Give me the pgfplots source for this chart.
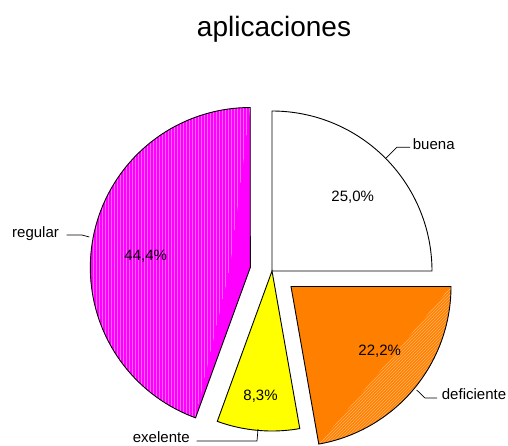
\documentclass[border=0pt]{standalone}
\usepackage{pgfplots}
\pgfplotsset{compat=1.18}
\usetikzlibrary{patterns}
\usepackage{fontspec}
\setmainfont{Liberation Sans}
\definecolor{cmag}{HTML}{FF00FF}
\definecolor{cmagl}{HTML}{FF66FF}
\definecolor{corg}{HTML}{FF8000}
\definecolor{corgl}{HTML}{FFB366}
\definecolor{cyel}{HTML}{FFFF00}
% data: counts (out of 36) -> buena 9, deficiente 8, exelente 3, regular 16
\def\nbuena{9}\def\ndef{8}\def\nexe{3}\def\nreg{16}\def\ntot{36}
\def\R{160}
\begin{document}
\begin{tikzpicture}
\useasboundingbox (0,0) rectangle (508pt,445pt);
\begin{axis}[at={(0,0)}, anchor=south west, scale only axis,
  width=508pt, height=445pt, xmin=0, xmax=508, ymin=0, ymax=445,
  hide axis, clip=false, samples=80, variable=\t]
% buena: 90 -> 0 (not exploded), apex (272,174)
\addplot[draw=black, line width=0.9pt, fill=white, domain={90-360*\nbuena/\ntot}:90]
  ({272+\R*cos(t)},{174+\R*sin(t)}) -- (axis cs:272,174) -- cycle;
% deficiente: exploded, apex (291,158.5)
\addplot[draw=none, fill=corg, domain={90-360*(\nbuena+\ndef)/\ntot}:{90-360*\nbuena/\ntot}]
  ({291+\R*cos(t)},{158.5+\R*sin(t)}) -- (axis cs:291,158.5) -- cycle;
\addplot[draw=none, fill=corg, pattern=north east lines, pattern color=corgl, domain={90-360*(\nbuena+\ndef)/\ntot}:{90-360*\nbuena/\ntot}]
  ({291+\R*cos(t)},{158.5+\R*sin(t)}) -- cycle;
\addplot[draw=black, line width=0.9pt, domain={90-360*(\nbuena+\ndef)/\ntot}:{90-360*\nbuena/\ntot}]
  ({291+\R*cos(t)},{158.5+\R*sin(t)}) -- (axis cs:291,158.5) -- cycle;
% exelente: apex (272,174)
\addplot[draw=black, line width=0.9pt, fill=cyel, domain={90-360*(\nbuena+\ndef+\nexe)/\ntot}:{90-360*(\nbuena+\ndef)/\ntot}]
  ({272+\R*cos(t)},{174+\R*sin(t)}) -- (axis cs:272,174) -- cycle;
% regular: exploded, apex (250.3,177.5)
\addplot[draw=none, fill=cmag, domain={90-360*(\nbuena+\ndef+\nexe+\nreg)/\ntot}:{90-360*(\nbuena+\ndef+\nexe)/\ntot}]
  ({250.3+\R*cos(t)},{177.5+\R*sin(t)}) -- (axis cs:250.3,177.5) -- cycle;
\addplot[draw=none, pattern=vertical lines, pattern color=cmagl, domain={90-360*(\nbuena+\ndef+\nexe+\nreg)/\ntot}:{90-360*(\nbuena+\ndef+\nexe)/\ntot}]
  ({250.3+\R*cos(t)},{177.5+\R*sin(t)}) -- (axis cs:230,177.5) -- cycle;
\addplot[draw=black, line width=0.9pt, domain={90-360*(\nbuena+\ndef+\nexe+\nreg)/\ntot}:{90-360*(\nbuena+\ndef+\nexe)/\ntot}]
  ({250.3+\R*cos(t)},{177.5+\R*sin(t)}) -- (axis cs:250.3,177.5) -- cycle;
% leader lines
\addplot[black, line width=0.7pt] coordinates {(386,287) (396.7,297.7) (410,297.7)};
\addplot[black, line width=0.7pt] coordinates {(89.3,208) (82,210) (66.7,210)};
\addplot[black, line width=0.7pt] coordinates {(416.7,55) (425,47) (437,47)};
\addplot[black, line width=0.7pt] coordinates {(258,16) (257,4) (196.7,4)};
% texts
\node[anchor=base, font=\fontsize{28}{31}\selectfont] at (axis cs:274,408) {aplicaciones};
\node[anchor=base west, inner sep=0pt, font=\fontsize{15}{17}\selectfont] at (axis cs:412.7,295.7) {buena};
\node[anchor=base west, inner sep=0pt, font=\fontsize{15}{17}\selectfont] at (axis cs:12,207.7) {regular};
\node[anchor=base west, inner sep=0pt, font=\fontsize{15}{17}\selectfont] at (axis cs:441.7,45.7) {deficiente};
\node[anchor=base west, inner sep=0pt, font=\fontsize{15}{17}\selectfont] at (axis cs:132.7,2.5) {exelente};
\node[anchor=base, inner sep=0pt, font=\fontsize{15}{17}\selectfont] at (axis cs:352.7,243.3) {25,0\%};
\node[anchor=base, inner sep=0pt, font=\fontsize{15}{17}\selectfont] at (axis cs:145.7,185) {44,4\%};
\node[anchor=base, inner sep=0pt, font=\fontsize{15}{17}\selectfont] at (axis cs:260.5,44.3) {8,3\%};
\node[anchor=base, inner sep=0pt, font=\fontsize{15}{17}\selectfont] at (axis cs:379.7,90) {22,2\%};
\end{axis}
\end{tikzpicture}
\end{document}
